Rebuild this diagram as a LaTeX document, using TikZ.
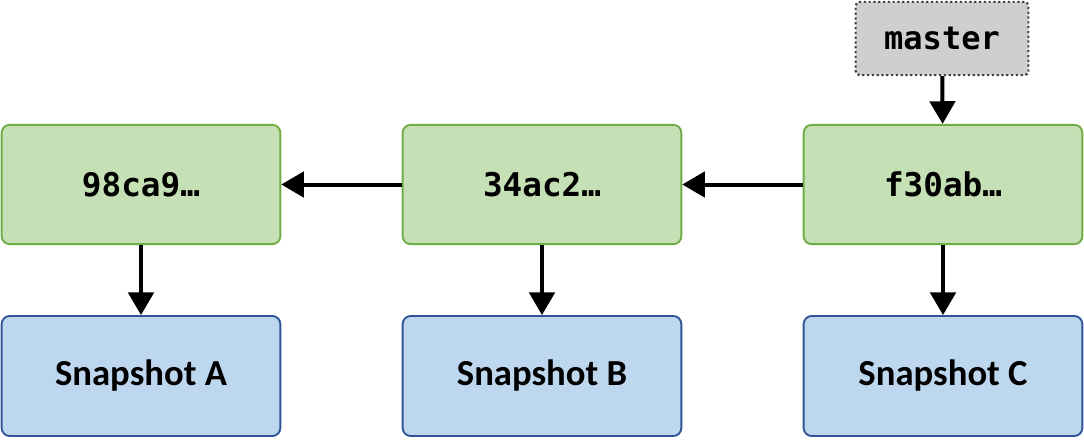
\documentclass[tikz,border=0pt]{standalone}
\usepackage{fontspec}
\setmainfont{Carlito}
\newfontfamily\monofnt{DejaVu Sans Mono}
\usetikzlibrary{arrows.meta}
\definecolor{gfill}{HTML}{C5E0B4}
\definecolor{gdraw}{HTML}{70AD47}
\definecolor{bfill}{HTML}{BDD7EE}
\definecolor{bdraw}{HTML}{2F5597}
\definecolor{mfill}{HTML}{D0CECE}
\definecolor{mdraw}{HTML}{404040}
\tikzset{
  commit/.style={draw=gdraw, fill=gfill, line width=1.4pt, rounded corners=6pt,
    minimum width=209pt, minimum height=89.5pt, inner sep=0pt,
    font=\monofnt\bfseries\fontsize{24.5}{29}\selectfont},
  snap/.style={draw=bdraw, fill=bfill, line width=1.4pt, rounded corners=6pt,
    minimum width=209pt, minimum height=90pt, inner sep=0pt,
    font=\bfseries\fontsize{27.5}{32}\selectfont},
  branch/.style={draw=mdraw, fill=mfill, line width=1.6pt, dotted, rounded corners=3pt,
    minimum width=129.5pt, minimum height=55pt, inner sep=0pt,
    font=\monofnt\bfseries\fontsize{24}{29}\selectfont},
  conn/.style={line width=3pt, -{Triangle[width=19pt,length=17pt]}}
}
\begin{document}
\begin{tikzpicture}[x=0.75pt,y=-0.75pt]
\useasboundingbox (0,0) rectangle (1084,439);
\node[commit] (c1) at (141,184.5) {98ca9…};
\node[commit] (c2) at (542,184.5) {34ac2…};
\node[commit] (c3) at (943,184.5) {f30ab…};
\node[snap] (s1) at (141,376) {Snapshot A};
\node[snap] (s2) at (542,376) {Snapshot B};
\node[snap] (s3) at (943,376) {Snapshot C};
\node[branch] (m) at (942,38.5) {master};
\draw[conn] (c2) -- (c1);
\draw[conn] (c3) -- (c2);
\draw[conn] (c1) -- (s1);
\draw[conn] (c2) -- (s2);
\draw[conn] (c3) -- (s3);
\draw[conn] (m) -- (c3);
\end{tikzpicture}
\end{document}
